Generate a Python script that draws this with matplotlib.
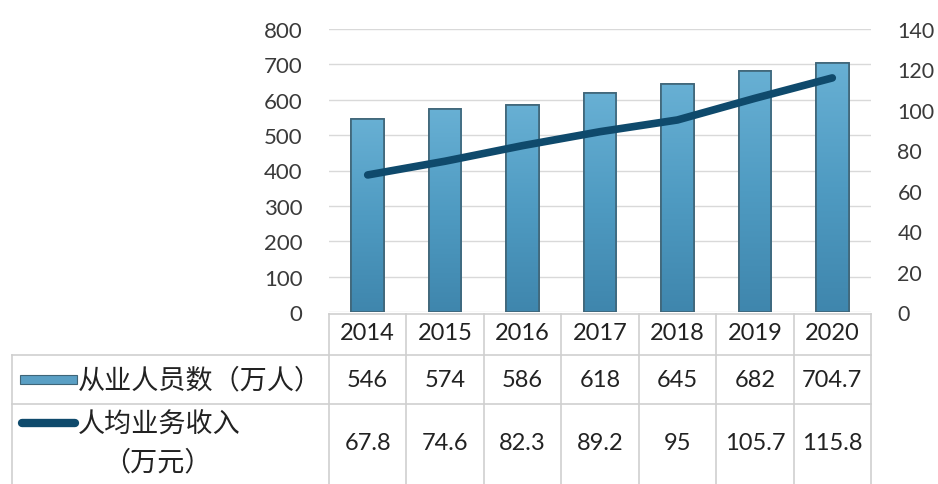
import matplotlib
matplotlib.use("Agg")
import matplotlib.pyplot as plt
import numpy as np
from matplotlib.transforms import blended_transform_factory
from matplotlib.lines import Line2D
from matplotlib.patches import Rectangle
from matplotlib.colors import LinearSegmentedColormap

plt.rcParams['font.family'] = ['Lato', 'Noto Sans CJK SC', 'DejaVu Sans']

years = ['2014', '2015', '2016', '2017', '2018', '2019', '2020']
employees = [546, 574, 586, 618, 645, 682, 704.7]
income = [67.8, 74.6, 82.3, 89.2, 95, 105.7, 115.8]
employees_labels = ['546', '574', '586', '618', '645', '682', '704.7']
income_labels = ['67.8', '74.6', '82.3', '89.2', '95', '105.7', '115.8']
series1_name = '从业人员数（万人）'
series2_name_a = '人均业务收入'
series2_name_b = '（万元）'

W, H = 938, 485
fig = plt.figure(figsize=(W / 100, H / 100), dpi=100)
fig.patch.set_facecolor('white')

def fx(px):
    return px / W

def fy(py):
    return 1 - py / H

ax = fig.add_axes([fx(329), fy(313), fx(871) - fx(329), fy(30) - fy(313)])
ax2 = ax.twinx()

x = np.arange(len(years))

# Bars with gradient fill
bars = ax.bar(x, employees, width=0.42, color='#4e97bd', edgecolor='#3f6578', linewidth=1.2, zorder=3)
cmap = LinearSegmentedColormap.from_list('g', ['#3f86ad', '#4f9bc2', '#68b0d4'])
for b in bars:
    xb, yb = b.get_x(), b.get_y()
    wb, hb = b.get_width(), b.get_height()
    img = ax.imshow(np.linspace(0, 1, 256).reshape(-1, 1),
                    extent=[xb, xb + wb, yb, yb + hb], aspect='auto', cmap=cmap, zorder=3.5,
                    origin='lower')
    img.set_clip_path(b)
    ax.add_patch(Rectangle((xb, yb), wb, hb, fill=False, edgecolor='#3f6578', linewidth=1.2, zorder=4))

ax.set_xlim(-0.5, len(years) - 0.5)
ax.set_ylim(0, 800)
ax2.set_ylim(0, 140)
ax.set_yticks(np.arange(0, 801, 100))
ax2.set_yticks(np.arange(0, 141, 20))

# Line
ax2.plot(x, income, color='#0f4a6c', linewidth=5.5, solid_capstyle='round', solid_joinstyle='round', zorder=5)

ax.grid(axis='y', color='#d9d9d9', linewidth=1.0, zorder=0)
ax.set_axisbelow(True)
for a in (ax, ax2):
    for s in a.spines.values():
        s.set_visible(False)
    a.tick_params(length=0)
ax.set_xticks([])
ax.tick_params(axis='y', labelsize=16, labelcolor='#3a3a3a', pad=19)
ax2.tick_params(axis='y', labelsize=15.5, labelcolor='#3a3a3a', pad=19)

# Table
tb = blended_transform_factory(ax.transData, fig.transFigure)
tf = fig.transFigure
line_kw = dict(color='#cfcfcf', linewidth=1.2)

fig.add_artist(Line2D([-0.5, len(years) - 0.5], [fy(315), fy(315)], transform=tb, **line_kw))
for i in range(len(years) + 1):
    fig.add_artist(Line2D([i - 0.5, i - 0.5], [fy(315), fy(485)], transform=tb, **line_kw))
for py in (356, 405):
    fig.add_artist(Line2D([fx(12), fx(871)], [fy(py), fy(py)], transform=tf, **line_kw))
fig.add_artist(Line2D([fx(12), fx(12)], [fy(356), fy(485)], transform=tf, **line_kw))

txt_kw = dict(fontsize=17, color='#222222', ha='center', va='center')
for i, y in enumerate(years):
    fig.text(i, fy(334), y, transform=tb, **txt_kw)
    fig.text(i, fy(381), employees_labels[i], transform=tb, **txt_kw)
    fig.text(i, fy(444), income_labels[i], transform=tb, **txt_kw)

# legend keys
fig.add_artist(Rectangle((fx(20), fy(385)), fx(57), fy(376) - fy(385), transform=tf,
                         facecolor='#5a9fc4', edgecolor='#3f6578', linewidth=0.8))
fig.add_artist(Line2D([fx(22), fx(75)], [fy(424), fy(424)], transform=tf, color='#0f4a6c',
                      linewidth=6, solid_capstyle='round'))

cjk_kw = dict(fontsize=19.5, color='#222222', va='center', family=['Noto Sans CJK SC', 'DejaVu Sans'])
fig.text(fx(78), fy(381), series1_name, ha='left', **cjk_kw)
fig.text(fx(78), fy(425), series2_name_a, ha='left', **cjk_kw)
fig.text(fx(157), fy(463), series2_name_b, ha='center', **cjk_kw)

fig.savefig('out.png', dpi=100, facecolor='white')
